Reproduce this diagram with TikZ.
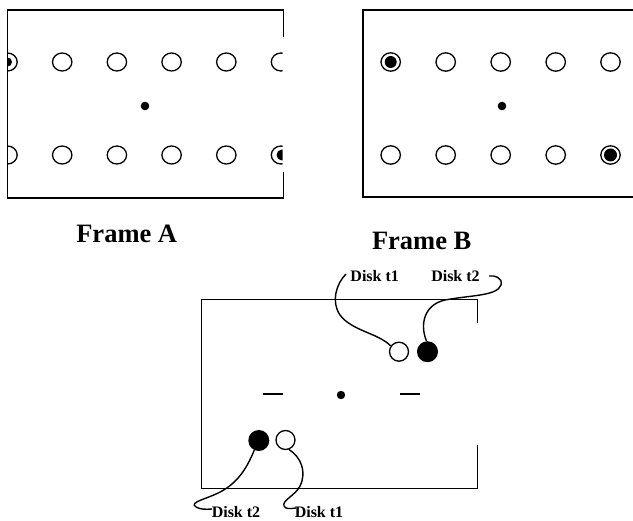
\documentclass[tikz,border=0pt]{standalone}
\usepackage{fontspec}
\setmainfont{Liberation Serif}
\begin{document}
\begin{tikzpicture}[x=1pt,y=-1pt,
  frm/.style={line width=1.4pt},
  ring/.style={line width=1.3pt},
  hole/.style={circle, draw, line width=1.3pt, minimum size=19pt, inner sep=0pt},
  blackdisk/.style={circle, fill=black, minimum size=21pt, inner sep=0pt},
  lbl/.style={font=\bfseries\fontsize{16}{18}\selectfont, anchor=base, inner sep=0pt},
  title/.style={font=\bfseries\fontsize{26.5}{30}\selectfont, anchor=base, inner sep=0pt},
  conn/.style={line width=1.4pt},
  dash line/.style={line width=2pt},
]
\useasboundingbox (0,0) rectangle (633,521);

% ---------- Frame A ----------
\draw[frm] (283.3,37) -- (283.3,10) -- (7.5,10) -- (7.5,198) -- (283.3,198) -- (283.3,172);
\begin{scope}
  \clip (7.5,0) rectangle (282.5,210);
  \foreach \y in {62,155}
    \foreach \x in {7.5,62.2,116.9,171.6,226.3,281}
      \draw[ring] (\x,\y) ellipse [x radius=9.7, y radius=9];
  \fill (7.5,62) circle (4.5);
  \fill (282,155) circle (5.5);
\end{scope}
\fill (145,106) circle (4.3);
\node[title] (fa) at (126.7,243) {Frame A};

% ---------- Frame B ----------
\draw[frm] (633,10) -- (363,10) -- (363,197) -- (633,197);
\foreach \y in {62,155}
  \foreach \x in {390.7,445.7,500.7,555.7,610.5}
    \draw[ring] (\x,\y) ellipse [x radius=9.7, y radius=9.2];
\fill (390.7,62) circle (6);
\fill (610.5,155) circle (6.5);
\fill (502,106) circle (4.3);
\node[title] (fb) at (421.7,250) {Frame B};

% ---------- Bottom frame ----------
\draw[frm] (477.7,323.3) -- (477.7,299.3) -- (201.7,299.3) -- (201.7,488.3) -- (477.7,488.3) -- (477.7,445);
\draw[dash line] (263.3,394) -- (283.3,394);
\draw[dash line] (400,394) -- (419.5,394);
\fill (341,395) circle (4.2);

\node[hole] (c1) at (399,351.7) {};
\node[blackdisk] (c2) at (427.5,351.7) {};
\node[blackdisk] (c3) at (258.8,440.5) {};
\node[hole] (c4) at (285.5,440) {};

\node[lbl] (l1) at (374.7,281.5) {Disk t1};
\node[lbl] (l2) at (455.5,281.5) {Disk t2};
\node[lbl] (l3) at (236,518) {Disk t2};
\node[lbl] (l4) at (319,518) {Disk t1};

\coordinate (e1) at (346,274);
\coordinate (e2) at (489,276);
\coordinate (e3) at (212,509);
\coordinate (e4) at (296,508);

\draw[conn] (e1) .. controls (336,284) and (331,302) .. (340,315)
  .. controls (352,331) and (378,333) .. (c1.145);
\draw[conn] (c2.95) .. controls (420,326) and (423,305) .. (445,300)
  .. controls (472,295) and (497,296) .. (501,285)
  .. controls (503,278) and (495,275) .. (e2);
\draw[conn] (c3.245) .. controls (247,468) and (238,482) .. (222,491)
  .. controls (208,499) and (188,502) .. (196,507)
  .. controls (200,509.5) and (206,509.5) .. (e3);
\draw[conn] (c4.290) .. controls (301,457) and (307,472) .. (300,486)
  .. controls (295,496) and (282,500) .. (284,506)
  .. controls (285,509) and (290,509) .. (e4);
\end{tikzpicture}
\end{document}
